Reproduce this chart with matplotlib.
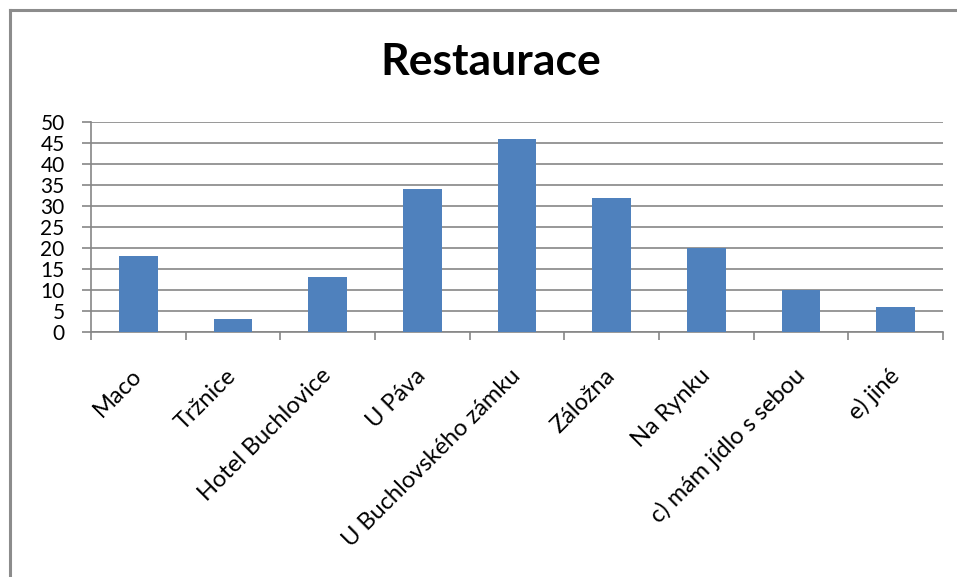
import matplotlib.pyplot as plt
from matplotlib.lines import Line2D
import numpy as np

# data
categories = ['Maco', 'Tržnice', 'Hotel Buchlovice', 'U Páva',
              'U Buchlovského zámku', 'Záložna', 'Na Rynku',
              'c) mám jídlo s sebou', 'e) jiné']
values = [18, 3, 13, 34, 46, 32, 20, 10, 6]
y_ticks = [0, 5, 10, 15, 20, 25, 30, 35, 40, 45, 50]

bar_color = '#4F81BD'
grid_color = '#868686'

plt.rcParams['font.family'] = ['Lato', 'DejaVu Sans']

fig = plt.figure(figsize=(9.57, 5.77), dpi=100)
ax = fig.add_axes([91 / 957, 245 / 577, 852 / 957, 210 / 577])

x = np.arange(len(categories))
ax.bar(x, values, width=0.41, color=bar_color, zorder=3)

ax.set_xlim(-0.5, len(categories) - 0.5)
ax.set_ylim(0, 50)
ax.set_yticks(y_ticks)
ax.yaxis.grid(True, color=grid_color, linewidth=1.2, zorder=0)

for side in ['top', 'right']:
    ax.spines[side].set_visible(False)
for side in ['left', 'bottom']:
    ax.spines[side].set_color(grid_color)
    ax.spines[side].set_linewidth(1.2)

ax.tick_params(axis='y', direction='out', length=6.5, width=1.2,
               color=grid_color, labelsize=15, pad=12.5)

# category labels at centers, tick marks at the boundaries
ax.set_xticks(x)
ax.set_xticklabels(categories, fontsize=17)
ax.tick_params(axis='x', which='major', length=0, pad=29)
ax.set_xticks(np.arange(len(categories) + 1) - 0.5, minor=True)
ax.tick_params(axis='x', which='minor', direction='out', length=6,
               width=1.2, color=grid_color)
plt.setp(ax.get_xticklabels(), rotation=45, ha='right', va='center',
         rotation_mode='anchor')

fig.text(491 / 957, 1 - 62 / 577, 'Restaurace', fontsize=32,
         fontweight='bold', ha='center', va='center')

# outer chart frame (cut by the image edge on the right and bottom)
fig.add_artist(Line2D([10 / 957, 10 / 957], [0, 1 - 10 / 577],
                      transform=fig.transFigure, color='#8C8C8C', linewidth=2.2))
fig.add_artist(Line2D([10 / 957, 1], [1 - 10 / 577, 1 - 10 / 577],
                      transform=fig.transFigure, color='#8C8C8C', linewidth=2.2))

fig.savefig('out.png', dpi=100)
